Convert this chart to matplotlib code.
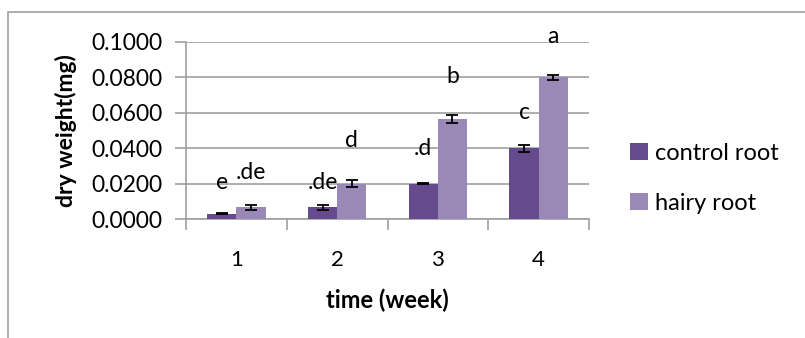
import matplotlib.pyplot as plt
from matplotlib.patches import Rectangle

plt.rcParams['font.family'] = ['Lato', 'DejaVu Sans']

weeks = [1, 2, 3, 4]
control = [0.0030, 0.0065, 0.0200, 0.0400]
hairy = [0.0065, 0.0200, 0.0565, 0.0800]
control_err = [0.0002, 0.0013, 0.0002, 0.0020]
hairy_err = [0.0014, 0.0020, 0.0020, 0.0015]
control_letters = ['e', '.de', '.d', 'c']
hairy_letters = ['.de', 'd', 'b', 'a']
control_letter_y = [0.0205, 0.0205, 0.0400, 0.0600]
hairy_letter_y = [0.0265, 0.0445, 0.0805, 0.1030]

fig = plt.figure(figsize=(8.05, 3.38), dpi=100)
# outer chart border (right and bottom cut off in the original)
fig.patches.append(Rectangle((8 / 805, -0.1), 1.2, 1 - 12 / 338 + 0.1,
                             transform=fig.transFigure, fill=False,
                             edgecolor='#a0a0a0', linewidth=1.2))

ax = fig.add_axes([186 / 805, 1 - 219 / 338, 403 / 805, 177 / 338])
w = 0.29
xc = [x - w / 2 for x in weeks]
xh = [x + w / 2 for x in weeks]
ax.bar(xc, control, w, color='#664a8e', label='control root', zorder=3)
ax.bar(xh, hairy, w, color='#9a88b6', label='hairy root', zorder=3)
ax.errorbar(xc, control, yerr=control_err, fmt='none', ecolor='black',
            capsize=4, elinewidth=1.3, capthick=1.3, zorder=4)
ax.errorbar(xh, hairy, yerr=hairy_err, fmt='none', ecolor='black',
            capsize=4, elinewidth=1.3, capthick=1.3, zorder=4)

for i in range(4):
    ax.text(xc[i], control_letter_y[i], control_letters[i], ha='center',
            va='center', fontsize=16.5, clip_on=False, zorder=5)
    ax.text(xh[i], hairy_letter_y[i], hairy_letters[i], ha='center',
            va='center', fontsize=16.5, clip_on=False, zorder=5)

ax.set_xlim(0.5, 4.5)
ax.set_ylim(0, 0.1)
ax.set_yticks([0, 0.02, 0.04, 0.06, 0.08, 0.1])
ax.set_yticklabels(['0.0000', '0.0200', '0.0400', '0.0600', '0.0800', '0.1000'])
ax.set_xticks([0.5, 1.5, 2.5, 3.5, 4.5])
ax.set_xticklabels([])
ax.set_xticks(weeks, minor=True)
ax.set_xticklabels([str(x) for x in weeks], minor=True)
ax.tick_params(axis='x', which='major', length=8, color='#a0a0a0', width=1.2)
ax.tick_params(axis='x', which='minor', length=0, labelsize=16, pad=22)
ax.tick_params(axis='y', length=8, color='#a0a0a0', width=1.2, labelsize=16.5, pad=9)
ax.grid(axis='y', color='#a0a0a0', linewidth=1.2, zorder=0)
for s in ['top', 'right']:
    ax.spines[s].set_visible(False)
for s in ['left', 'bottom']:
    ax.spines[s].set_color('#a0a0a0')
    ax.spines[s].set_linewidth(1.2)

ax.set_xlabel('time (week)', fontsize=17, fontweight='bold', labelpad=14)
ax.set_ylabel('dry weight(mg)', fontsize=16.5, fontweight='bold', labelpad=10)

ax.legend(loc='center left', bbox_to_anchor=(1.05, 0.23), frameon=False,
          fontsize=17, handlelength=0.75, handleheight=0.75, handletextpad=0.3,
          labelspacing=1.25)

fig.savefig('out.png', dpi=100)
